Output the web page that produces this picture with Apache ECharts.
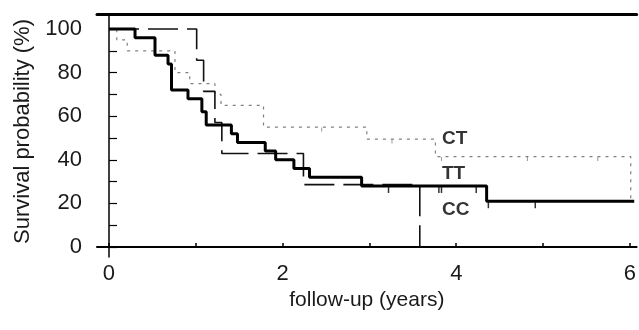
<!DOCTYPE html>
<html>
<head>
<meta charset="utf-8">
<script src="https://cdn.jsdelivr.net/npm/echarts@6/dist/echarts.min.js"></script>
<style>
  html, body { margin: 0; padding: 0; background: #fff; }
  #chart { width: 639px; height: 330px; }
</style>
</head>
<body>
<div id="chart"></div>
<script>
// Kaplan-Meier survival by genotype (time in years, survival in %)
const ttTimes = [0, 0.30, 0.53, 0.68, 0.72, 0.91, 1.07, 1.12, 1.41, 1.48, 1.80, 1.92, 2.13, 2.31, 2.91, 4.35, 6.05];
const ttSurv  = [100, 96, 88, 84, 72, 68, 62, 56, 52, 48, 44, 40, 36, 32, 28, 21, 21];
const ttCensored = [3.22, 3.80, 3.83, 4.23, 4.37, 4.91];

const ctTimes = [0, 0.09, 0.21, 0.76, 0.93, 1.22, 1.29, 1.78, 2.97, 3.76, 6.01];
const ctSurv  = [100, 95, 90, 80, 75, 70, 65, 55, 49.5, 41.5, 21];
const ctCensored = [2.45, 3.26, 3.83, 4.82, 5.63];

const ccTimes = [0, 1.01, 1.09, 1.22, 1.30, 2.24, 3.58];
const ccSurv  = [100, 85.7, 71.4, 57.1, 42.9, 28.6, 0];

const xTickValues  = [0, 1, 2, 3, 4, 5, 6];
const xLabelValues = [0, 2, 4, 6];
const yTickValues  = [0, 10, 20, 30, 40, 50, 60, 70, 80, 90, 100];
const yLabelValues = [0, 20, 40, 60, 80, 100];

const groupNames = ['TT', 'CT', 'CC'];

function pairs(xs, ys) { return xs.map((x, i) => [x, ys[i]]); }
// survival level of a step curve at time t
function levelAt(xs, ys, t) {
  let v = ys[0];
  for (let i = 0; i < xs.length; i++) { if (xs[i] <= t) v = ys[i]; }
  return v;
}
function censorPoints(xs, ys, times) { return times.map(t => [t, levelAt(xs, ys, t)]); }

const font = '"Liberation Sans", Arial, sans-serif';
const textColor = '#1a1a1a';

const chart = echarts.init(document.getElementById('chart'), null, { renderer: 'canvas' });
chart.setOption({
  animation: false,
  backgroundColor: '#fff',
  grid: { left: 97, right: 0, top: 14, bottom: 73, containLabel: false },
  xAxis: [{
    type: 'value', min: -0.138, max: 6.078,
    splitLine: { show: false },
    axisLine: { lineStyle: { color: '#000', width: 2 } },
    axisTick: { inside: true, length: 4, customValues: xTickValues, lineStyle: { color: '#000', width: 1.5 } },
    axisLabel: { customValues: xLabelValues, margin: 6, fontFamily: font, fontSize: 22, color: textColor },
    name: 'follow-up (years)', nameLocation: 'middle', nameGap: 26,
    nameTextStyle: { fontFamily: font, fontSize: 21, color: textColor }
  }, {
    type: 'value', position: 'top', min: -0.138, max: 6.078,
    splitLine: { show: false },
    axisLine: { show: true, lineStyle: { color: '#000', width: 3 } },
    axisTick: { show: false }, axisLabel: { show: false }
  }],
  yAxis: {
    type: 'value', min: -4.59, max: 106.9,
    splitLine: { show: false },
    axisLine: { show: true, lineStyle: { color: '#000', width: 1.5 } },
    axisTick: { show: true, inside: true, length: 8, customValues: yTickValues, lineStyle: { color: '#000', width: 1.2 } },
    axisLabel: { customValues: yLabelValues, margin: 15, fontFamily: font, fontSize: 22, color: textColor },
    name: 'Survival probability (%)', nameLocation: 'middle', nameGap: 60, nameRotate: 90,
    nameTextStyle: { fontFamily: font, fontSize: 22, color: textColor, padding: [0, 0, 0, 8] }
  },
  series: [
    {
      name: groupNames[1], type: 'line', step: 'end', symbol: 'none',
      data: pairs(ctTimes, ctSurv),
      lineStyle: { color: '#808080', width: 1.2, type: [3, 5] }
    },
    {
      name: groupNames[2], type: 'line', step: 'end', symbol: 'none',
      data: pairs(ccTimes, ccSurv),
      lineStyle: { color: '#111', width: 1.6, type: [30, 9] }
    },
    {
      name: groupNames[0], type: 'line', step: 'end', symbol: 'none',
      data: pairs(ttTimes, ttSurv),
      lineStyle: { color: '#000', width: 3 }
    },
    {
      name: groupNames[0] + ' censored', type: 'scatter', silent: true,
      data: censorPoints(ttTimes, ttSurv, ttCensored),
      symbol: 'rect', symbolSize: [1.5, 6], symbolOffset: [0, 4],
      itemStyle: { color: '#000' }
    },
    {
      name: groupNames[1] + ' censored', type: 'scatter', silent: true,
      data: censorPoints(ctTimes, ctSurv, ctCensored),
      symbol: 'rect', symbolSize: [1, 4], symbolOffset: [0, 2.5],
      itemStyle: { color: '#808080' }
    },
    {
      // curve names written next to each curve
      name: 'group labels', type: 'scatter', silent: true,
      symbol: 'circle', symbolSize: 1, itemStyle: { color: 'rgba(0,0,0,0)' },
      data: [
        { value: [3.83, 49.5], name: 'CT' },
        { value: [3.83, 33.5], name: 'TT' },
        { value: [3.83, 17], name: 'CC' }
      ],
      label: { show: true, position: 'right', distance: 0, formatter: p => p.name,
        fontFamily: font, fontWeight: 'bold', fontSize: 19, color: '#000' }
    }
  ]
});
</script>
</body>
</html>
